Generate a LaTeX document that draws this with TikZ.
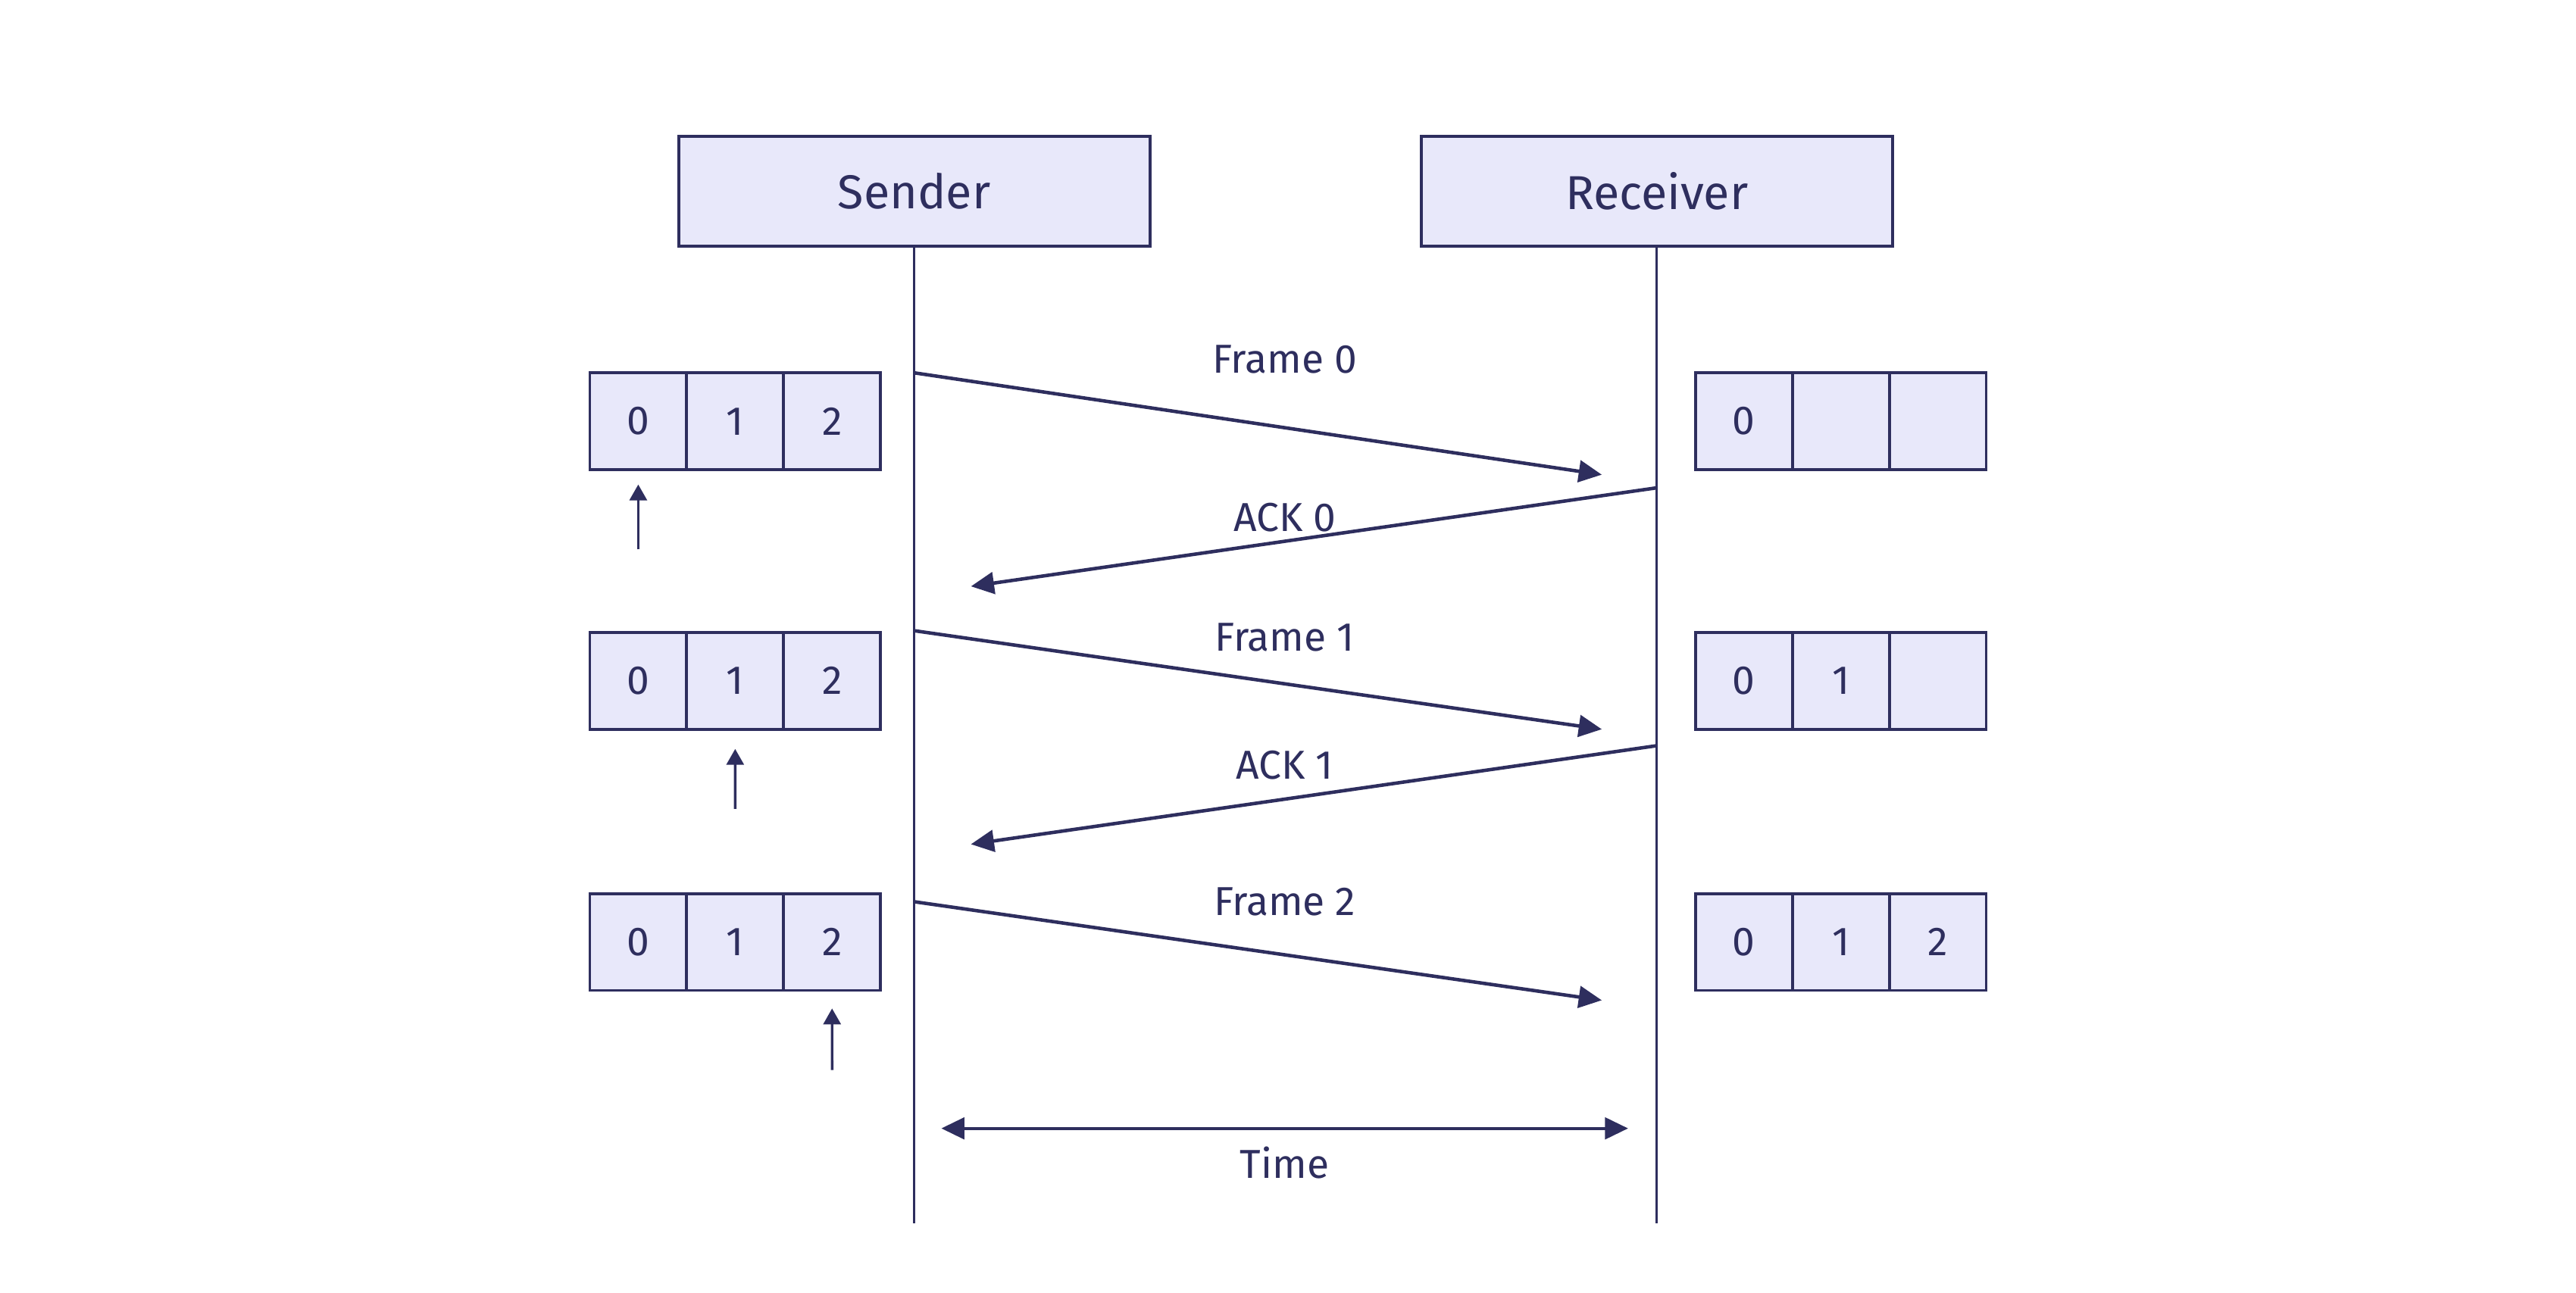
\documentclass[tikz,border=0pt]{standalone}
\usepackage{fontspec}
\setmainfont{Fira Sans}
\usetikzlibrary{positioning,arrows.meta}
\definecolor{boxfill}{RGB}{232,232,250}
\definecolor{ink}{RGB}{46,46,94}
\begin{document}
\begin{tikzpicture}[x=0.02cm, y=-0.02cm, every node/.style={text=ink, font=\fontsize{14}{17}\selectfont}, >={Triangle[length=8pt,width=7.5pt]}]

\tikzstyle{actor}=[draw=ink, fill=boxfill, line width=1pt, minimum width=5.74cm, minimum height=1.34cm, font=\fontsize{16.5}{20}\selectfont]
\tikzstyle{cell}=[draw=ink, fill=boxfill, line width=1pt, minimum size=1.18cm, inner sep=0pt, outer sep=0pt]
\tikzstyle{msg}=[draw=ink, line width=1.2pt, ->]
\tikzstyle{life}=[draw=ink, line width=0.75pt]
\tikzstyle{pointer}=[draw=ink, line width=0.9pt, -{Triangle[length=5.5pt,width=6pt]}]

\useasboundingbox (0,0) rectangle (1568,787);

% lifelines
\node[actor] (sender) at (556.5,116.5) {Sender};
\node[actor] (receiver) at (1008.5,116.5) {Receiver};
\coordinate (sender end) at (556.5,745);
\coordinate (receiver end) at (1008.5,745);
\draw[life] (sender) -- (sender end);
\draw[life] (receiver) -- (receiver end);

% windows on both sides
\foreach \row/\y/\ra/\rb/\rc/\px in {a/256.5/0//{}/388.5, b/414.5/0/1/{}/447.5, c/573.5/0/1/2/506.5}{
  \node[cell] (s\row0) at (388.5,\y) {0};
  \node[cell, right=0pt of s\row0] (s\row1) {1};
  \node[cell, right=0pt of s\row1] (s\row2) {2};
  \node[cell] (r\row0) at (1061.5,\y) {\ra};
  \node[cell, right=0pt of r\row0] (r\row1) {\rb};
  \node[cell, right=0pt of r\row1] (r\row2) {\rc};
  \coordinate (p\row) at (\px,\y+78);
}
\draw[pointer] (pa) -- ([yshift=-0.18cm]sa0.south);
\draw[pointer] (pb) -- ([yshift=-0.24cm]sb1.south);
\draw[pointer] (pc) -- ([yshift=-0.22cm]sc2.south);

% frames and acks
\coordinate (f0 out) at (556.5,227);  \coordinate (f0 in) at (975,289);
\coordinate (a0 out) at (1008.5,297); \coordinate (a0 in) at (591,357);
\coordinate (f1 out) at (556.5,384);  \coordinate (f1 in) at (975,444);
\coordinate (a1 out) at (1008.5,454); \coordinate (a1 in) at (591,514);
\coordinate (f2 out) at (556.5,549);  \coordinate (f2 in) at (975,609);

\draw[msg] (f0 out) -- (f0 in);
\draw[msg] (a0 out) -- (a0 in);
\draw[msg] (f1 out) -- (f1 in);
\draw[msg] (a1 out) -- (a1 in);
\draw[msg] (f2 out) -- (f2 in);

\node (lbl f0) at (782,219) {Frame 0};
\node (lbl a0) at (782,315) {ACK 0};
\node (lbl f1) at (782,388) {Frame 1};
\node (lbl a1) at (782,466) {ACK 1};
\node (lbl f2) at (782,549) {Frame 2};

% time span
\coordinate (time left) at (573,687);
\coordinate (time right) at (991,687);
\draw[msg, <->, line width=1pt] (time left) -- (time right);
\node (lbl time) at (782,708) {Time};

\end{tikzpicture}
\end{document}
